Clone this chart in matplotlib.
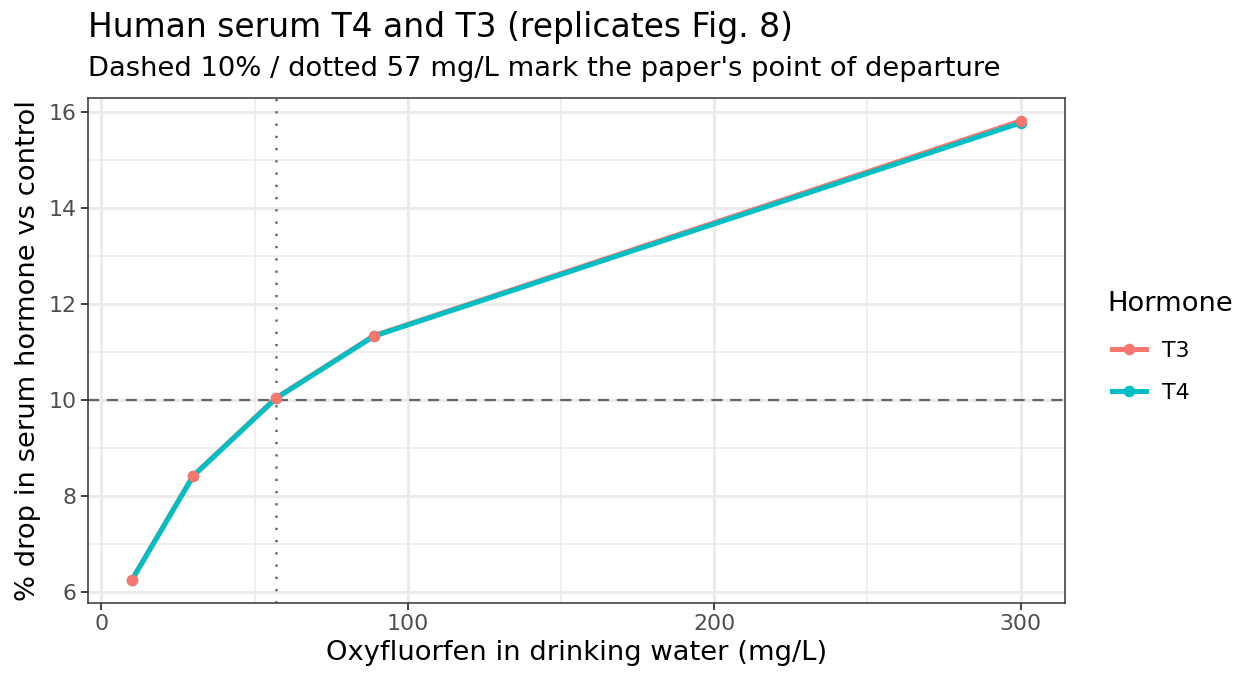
import matplotlib
matplotlib.use("Agg")
import matplotlib.pyplot as plt
from matplotlib.lines import Line2D

dose = [10, 30, 57, 89, 300]
t3 = [6.25, 8.42, 10.04, 11.34, 15.82]
t4 = [6.24, 8.41, 10.03, 11.33, 15.78]
hormones = ["T3", "T4"]
colors = {"T3": "#F8766D", "T4": "#00BFC4"}
xticks = [0, 100, 200, 300]
yticks = [6, 8, 10, 12, 14, 16]
xminor = [50, 150, 250]
yminor = [7, 9, 11, 13, 15]
ref_y = 10
ref_x = 57

W, H = 1260, 684
fig = plt.figure(figsize=(W / 100, H / 100), dpi=100)
L, R, T, B = 87.5, 1065, 98, 603
ax = fig.add_axes([L / W, 1 - B / H, (R - L) / W, (B - T) / H])

xmin, xmax = min(dose), max(dose)
ymin, ymax = min(t3 + t4), max(t3 + t4)
ax.set_xlim(xmin - 0.05 * (xmax - xmin), xmax + 0.05 * (xmax - xmin))
ax.set_ylim(ymin - 0.05 * (ymax - ymin), ymax + 0.05 * (ymax - ymin))

for v in xminor:
    ax.axvline(v, color="#EBEBEB", lw=1.1, zorder=0)
for v in yminor:
    ax.axhline(v, color="#EBEBEB", lw=1.1, zorder=0)
for v in xticks:
    ax.axvline(v, color="#EBEBEB", lw=2.2, zorder=0)
for v in yticks:
    ax.axhline(v, color="#EBEBEB", lw=2.2, zorder=0)

ax.axhline(ref_y, color="#666666", lw=1.6, dashes=(5, 3.5), zorder=1)
ax.axvline(ref_x, color="#666666", lw=1.8, dashes=(0.9, 4), zorder=1)

data = {"T3": t3, "T4": t4}
for h in hormones:
    ax.plot(dose, data[h], color=colors[h], lw=3.6, zorder=2, solid_capstyle="butt")
for h in ["T4", "T3"]:
    ax.plot(dose, data[h], "o", color=colors[h], ms=8.3, mec="none", zorder=3)

ax.set_xticks(xticks)
ax.set_yticks(yticks)
ax.set_xticklabels([str(v) for v in xticks])
ax.set_yticklabels([str(v) for v in yticks])
ax.tick_params(axis="both", direction="out", length=5, width=1.3, color="#333333",
               labelcolor="#4D4D4D", labelsize=15.8, pad=3)
for s in ax.spines.values():
    s.set_color("#333333")
    s.set_linewidth(1.1)

ax.set_xlabel("Oxyfluorfen in drinking water (mg/L)", fontsize=19.7, color="black", labelpad=4)
ax.set_ylabel("% drop in serum hormone vs control", fontsize=19.7, color="black", labelpad=5)

fig.text(88 / W, 1 - 28 / H, "Human serum T4 and T3 (replicates Fig. 8)", fontsize=23.7,
         ha="left", va="center", color="black")
fig.text(88 / W, 1 - 69 / H, "Dashed 10% / dotted 57 mg/L mark the paper's point of departure",
         fontsize=19.7, ha="left", va="center", color="black")

handles = [Line2D([0], [0], color=colors[h], lw=3.6, marker="o", ms=8.3, mec="none") for h in hormones]
leg = fig.legend(handles, hormones, title="Hormone", loc="upper left",
                 bbox_to_anchor=(1092 / W, 1 - 276 / H), frameon=False,
                 fontsize=15.8, title_fontsize=19.7, handlelength=1.55,
                 labelspacing=1.0, handletextpad=0.75, alignment="left", borderpad=0.2)
leg._legend_box.sep = 14
leg._legend_handle_box.pad = 3

fig.savefig("out.png", dpi=100)
